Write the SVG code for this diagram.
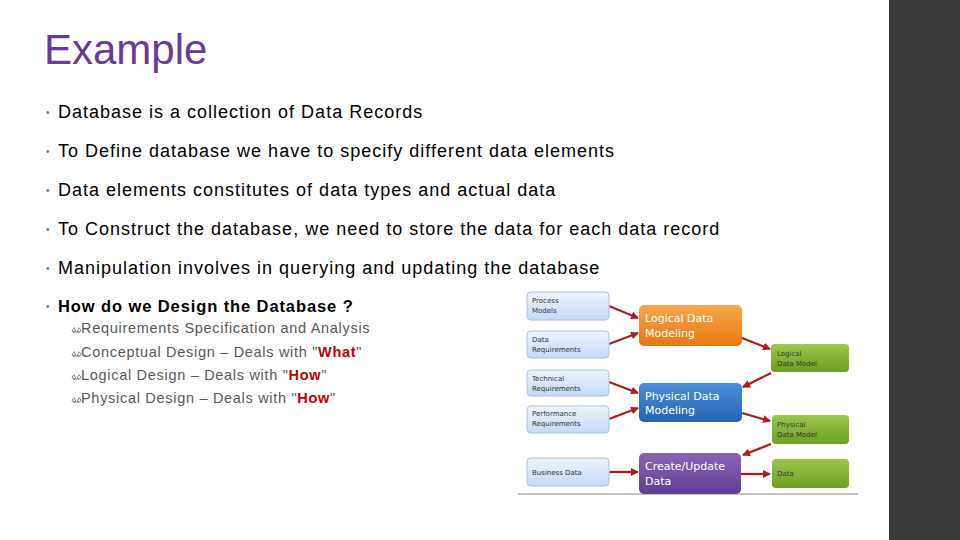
<svg xmlns="http://www.w3.org/2000/svg" width="960" height="540" viewBox="0 0 960 540">
<style>
.t{font-family:"Liberation Sans",Arial,sans-serif;font-size:18px;fill:#000;letter-spacing:1px}
.s{font-family:"Liberation Sans",Arial,sans-serif;font-size:14.5px;fill:#595959;letter-spacing:0.7px}
.r{fill:#c00000;font-weight:bold}
.b{fill:#777;font-size:10px;font-weight:normal}
.sm{font-family:"DejaVu Sans",sans-serif;font-size:7px;fill:#333}
.md{font-family:"DejaVu Sans",sans-serif;font-size:11px;fill:#fff}
.a{stroke:#b01c1c;stroke-width:2.2;fill:none;marker-end:url(#ah)}
</style>
<defs>
<marker id="ah" markerWidth="8" markerHeight="8" refX="7" refY="4" orient="auto" markerUnits="userSpaceOnUse"><path d="M0,0 L8,4 L0,8 Z" fill="#b01c1c"/></marker>
<linearGradient id="gb" x1="0" y1="0" x2="0" y2="1"><stop offset="0" stop-color="#eef4fd"/><stop offset="1" stop-color="#c6d9f3"/></linearGradient>
<linearGradient id="go" x1="0" y1="0" x2="0" y2="1"><stop offset="0" stop-color="#f9a64a"/><stop offset="1" stop-color="#e57a12"/></linearGradient>
<linearGradient id="gp" x1="0" y1="0" x2="0" y2="1"><stop offset="0" stop-color="#4a8fd8"/><stop offset="1" stop-color="#2864b4"/></linearGradient>
<linearGradient id="gv" x1="0" y1="0" x2="0" y2="1"><stop offset="0" stop-color="#8a65b8"/><stop offset="1" stop-color="#5e3f90"/></linearGradient>
<linearGradient id="gg" x1="0" y1="0" x2="0" y2="1"><stop offset="0" stop-color="#9cc94a"/><stop offset="1" stop-color="#6d9d24"/></linearGradient>
<path id="cs" d="M0,-3 c-3,0 -4,4 -1,4 c2,0 2,-3 0,-3 M3,-3 c3,0 4,4 1,4 c-2,0 -2,-3 0,-3 M-2,1 l6,0" fill="none" stroke="#595959" stroke-width="0.8"/>
</defs>
<rect width="960" height="540" fill="#fff"/>
<rect x="889" y="0" width="71" height="540" fill="#3a3a3a"/>
<text x="44" y="64" font-family="Liberation Sans,Arial,sans-serif" font-size="42" fill="#6b3a98">Example</text>
<g>
<text x="46" y="116" class="b" font-family="Liberation Sans,Arial,sans-serif">•</text><text x="58" y="118" class="t">Database is a collection of Data Records</text>
<text x="46" y="155" class="b" font-family="Liberation Sans,Arial,sans-serif">•</text><text x="58" y="157" class="t">To Define database we have to specify different data elements</text>
<text x="46" y="194" class="b" font-family="Liberation Sans,Arial,sans-serif">•</text><text x="58" y="196" class="t">Data elements constitutes of data types and actual data</text>
<text x="46" y="233" class="b" font-family="Liberation Sans,Arial,sans-serif">•</text><text x="58" y="235" class="t">To Construct the database, we need to store the data for each data record</text>
<text x="46" y="272" class="b" font-family="Liberation Sans,Arial,sans-serif">•</text><text x="58" y="274" class="t">Manipulation involves in querying and updating the database</text>
<text x="46" y="310" class="b" font-family="Liberation Sans,Arial,sans-serif">•</text><text x="58" y="312" font-family="Liberation Sans,Arial,sans-serif" font-weight="bold" font-size="16.5" letter-spacing="0.9">How do we Design the Database ?</text>
</g>
<use href="#cs" x="75" y="331"/><use href="#cs" x="75" y="355"/><use href="#cs" x="75" y="378"/><use href="#cs" x="75" y="401"/>
<text x="81" y="333" class="s">Requirements Specification and Analysis</text>
<text x="81" y="357" class="s">Conceptual Design – Deals with "<tspan class="r">What</tspan>"</text>
<text x="81" y="380" class="s">Logical Design – Deals with "<tspan class="r">How</tspan>"</text>
<text x="81" y="403" class="s">Physical Design – Deals with "<tspan class="r">How</tspan>"</text>

<g id="connectors">
<line class="a" x1="609" y1="306" x2="638" y2="318"/>
<line class="a" x1="609" y1="344" x2="638" y2="333"/>
<line class="a" x1="609" y1="382" x2="638" y2="393"/>
<line class="a" x1="609" y1="419" x2="638" y2="408"/>
<line class="a" x1="609" y1="472" x2="638" y2="472"/>
<line class="a" x1="742" y1="338" x2="770" y2="349"/>
<line class="a" x1="771" y1="373" x2="743" y2="387"/>
<line class="a" x1="742" y1="413" x2="770" y2="421"/>
<line class="a" x1="771" y1="444" x2="743" y2="455"/>
<line class="a" x1="741" y1="474" x2="770" y2="474"/>
</g>
<line x1="518" y1="494" x2="858" y2="494" stroke="#888" stroke-width="1"/>

<g id="n1"><rect x="527" y="292" width="82" height="28" rx="4" fill="url(#gb)" stroke="#a9c2e6"/><text class="sm" x="532" y="303">Process</text><text class="sm" x="532" y="313">Models</text></g>
<g id="n2"><rect x="527" y="331" width="82" height="27" rx="4" fill="url(#gb)" stroke="#a9c2e6"/><text class="sm" x="532" y="342">Data</text><text class="sm" x="532" y="352">Requirements</text></g>
<g id="n3"><rect x="527" y="370" width="82" height="26" rx="4" fill="url(#gb)" stroke="#a9c2e6"/><text class="sm" x="532" y="381">Technical</text><text class="sm" x="532" y="391">Requirements</text></g>
<g id="n4"><rect x="527" y="406" width="82" height="27" rx="4" fill="url(#gb)" stroke="#a9c2e6"/><text class="sm" x="532" y="416">Performance</text><text class="sm" x="532" y="426">Requirements</text></g>
<g id="n5"><rect x="527" y="458" width="82" height="28" rx="4" fill="url(#gb)" stroke="#a9c2e6"/><text class="sm" x="532" y="475">Business Data</text></g>
<g id="m1"><rect x="639" y="305" width="103" height="41" rx="5" fill="url(#go)"/><text class="md" x="645" y="322">Logical Data</text><text class="md" x="645" y="337">Modeling</text></g>
<g id="m2"><rect x="639" y="383" width="103" height="39" rx="5" fill="url(#gp)"/><text class="md" x="645" y="400">Physical Data</text><text class="md" x="645" y="414">Modeling</text></g>
<g id="m3"><rect x="639" y="453" width="102" height="41" rx="5" fill="url(#gv)"/><text class="md" x="645" y="470">Create/Update</text><text class="md" x="645" y="485">Data</text></g>
<g id="o1"><rect x="771" y="344" width="78" height="28" rx="4" fill="url(#gg)"/><text class="sm" x="777" y="356">Logical</text><text class="sm" x="777" y="366">Data Model</text></g>
<g id="o2"><rect x="772" y="415" width="77" height="29" rx="4" fill="url(#gg)"/><text class="sm" x="777" y="427">Physical</text><text class="sm" x="777" y="437">Data Model</text></g>
<g id="o3"><rect x="772" y="459" width="77" height="29" rx="4" fill="url(#gg)"/><text class="sm" x="777" y="476">Data</text></g>
</svg>
